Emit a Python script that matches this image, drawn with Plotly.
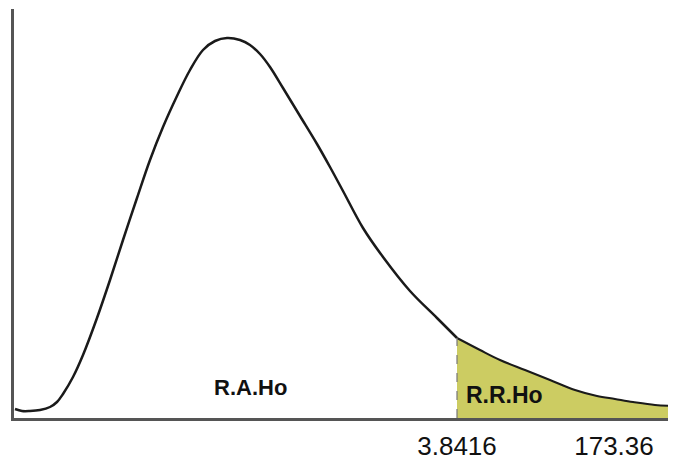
import plotly.graph_objects as go

# Curve (arbitrary units: horizontal position, density height)
curve_x = [1, 8, 16, 26, 36, 43, 49, 59, 69, 83, 96, 109, 123, 136, 149, 163, 176, 189, 201, 213, 226, 236, 246, 256, 269, 286, 303, 316, 329, 349, 369, 396, 423, 443]
curve_y = [9, 7, 7, 8, 11, 16, 24, 41, 63, 100, 138, 178, 220, 258, 291, 322, 348, 368, 377, 380, 378, 373, 364, 351, 330, 302, 274, 251, 227, 190, 161, 127, 100, 80]

tail_x = [443, 466, 486, 511, 536, 561, 583, 601, 619, 641, 662]
tail_y = [80, 68, 58, 48, 38, 28, 22, 19, 16, 13, 12]

tick_vals = [443, 600]
tick_text = ["3.8416", "173.36"]

fig = go.Figure()

# shaded rejection region
fig.add_trace(go.Scatter(
    x=tail_x, y=tail_y, mode="lines", fill="tozeroy",
    fillcolor="#cccc62", line=dict(color="#1a1a1a", width=2, shape="spline"),
    hoverinfo="skip", showlegend=False))

# main curve
fig.add_trace(go.Scatter(
    x=curve_x, y=curve_y, mode="lines",
    line=dict(color="#1a1a1a", width=2.5, shape="spline"),
    hoverinfo="skip", showlegend=False))

# dashed critical value line
fig.add_trace(go.Scatter(
    x=[tail_x[0], tail_x[0]], y=[0, tail_y[0]], mode="lines",
    line=dict(color="#777777", width=1.2, dash="dash"),
    hoverinfo="skip", showlegend=False))

fig.add_annotation(x=236, y=31, text="<b>R.A.Ho</b>", showarrow=False,
                   font=dict(family="Arial, Liberation Sans", size=22, color="#111111"))
fig.add_annotation(x=490, y=23, text="<b>R.R.Ho</b>", showarrow=False,
                   font=dict(family="Arial, Liberation Sans", size=23, color="#111111"))

fig.update_layout(
    width=668, height=456,
    margin=dict(l=6, r=0, t=1, b=46, autoexpand=False),
    paper_bgcolor="white", plot_bgcolor="white",
    xaxis=dict(range=[0, 662], showgrid=False, zeroline=False,
               showline=True, linecolor="#555555", linewidth=2.5,
               tickvals=tick_vals, ticktext=tick_text, ticks="",
               ticklabelstandoff=3, automargin=False,
               tickfont=dict(family="Arial, Liberation Sans", size=26, color="#111111")),
    yaxis=dict(range=[0, 409], showgrid=False, zeroline=False,
               showline=True, linecolor="#555555", linewidth=2.5,
               showticklabels=False, ticks="", automargin=False),
)

fig.write_html("out.html")
